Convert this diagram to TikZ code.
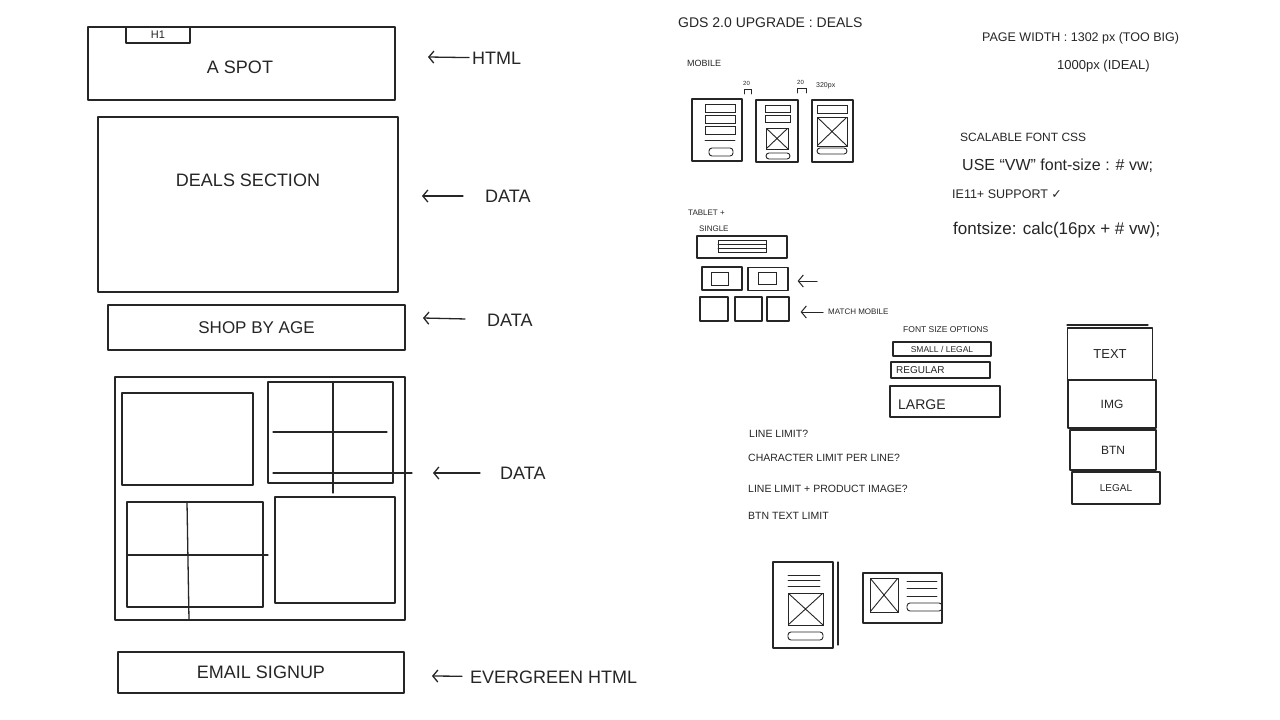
\documentclass[tikz,border=0pt]{standalone}
\usepackage{fontspec}
\setmainfont{Liberation Sans}
\newfontfamily\symfont{DejaVu Sans}
\usetikzlibrary{arrows.meta,positioning}
\definecolor{ink}{HTML}{262626}

\begin{document}
\begin{tikzpicture}[x=1pt,y=-1pt,
  pen/.style={draw=ink,line width=1.3pt,line cap=round,line join=round},
  box/.style={pen,inner sep=0pt,text=ink},
  fine/.style={draw=ink,line width=0.9pt,line cap=round,inner sep=0pt},
  xbox/.style={fine,path picture={
    \draw[fine] (path picture bounding box.north west) -- (path picture bounding box.south east)
                (path picture bounding box.south west) -- (path picture bounding box.north east);}},
  pill/.style={fine,rounded corners=3pt},
  lbl/.style={text=ink,font=\fontsize{18}{20}\selectfont,inner sep=0pt},
  note/.style={text=ink,anchor=west,inner sep=0pt},
  arr/.style={pen,-{Straight Barb[length=5pt,width=12pt]}}]
  \path[fill=white,use as bounding box] (0,0) rectangle (1280,720);

  \begin{scope}
	  % Page layout
	  \node[box,minimum width=307,minimum height=73] (aspot) at (241.5,63.5) {};
	  \node[lbl]                    (aspot text) at (240,67)  {A SPOT};
	  \node[box,minimum width=64,minimum height=16,font=\fontsize{11}{12}\selectfont] (h1) at (158,35) {H1};
	  \node[box,minimum width=300,minimum height=175] (deals) at (248,204.5) {};
	  \node[lbl]                    (deals text) at (248,180) {DEALS SECTION};
	  \node[box,minimum width=297,minimum height=45,font=\fontsize{17}{20}\selectfont] (shop)  at (256.5,327.5) {SHOP BY AGE};
	  \node[box,minimum width=286,minimum height=41,font=\fontsize{18}{20}\selectfont] (email) at (261,672.5) {EMAIL SIGNUP};
	  % Product grid
	  \node[box,minimum width=290,minimum height=243] (grid) at (260,498.5) {};
	  \node[box,minimum width=131,minimum height=92]  (grid a) at (187.5,439) {};
	  \node[box,minimum width=125,minimum height=101] (grid b) at (330.5,432.5) {};
	  \node[box,minimum width=136,minimum height=105] (grid c) at (195,554.5) {};
	  \node[box,minimum width=120,minimum height=106] (grid d) at (335,550) {};
	  \draw[pen] (333,383) -- (333,493);
	  \draw[pen] (273,432) -- (387,432);
	  \draw[pen] (273,473) -- (412,473);
	  \draw[pen] (187,502) -- (189,620);
	  \draw[pen] (127,555) -- (268,555);
  \end{scope}

  \begin{scope}
	  % Notes on the right of the page
	  \node[lbl,anchor=west] (html)      at (472,58)  {HTML};
	  \node[lbl,anchor=west] (data a)    at (485,196) {DATA};
	  \node[lbl,anchor=west] (data b)    at (487,320) {DATA};
	  \node[lbl,anchor=west] (data c)    at (500,473) {DATA};
	  \node[lbl,anchor=west] (evergreen) at (470,677) {EVERGREEN HTML};
	  \coordinate (html tip)  at (428,57);
	  \coordinate (data a tip) at (422,196);
	  \coordinate (data b tip) at (423,318);
	  \coordinate (data c tip) at (433,473);
	  \coordinate (ever tip)  at (432,676);
	  \path[arr]
	  (html)      edge[shorten <=3pt]  (html tip)
	  (data a)    edge[shorten <=22pt] (data a tip)
	  (data b)    edge[shorten <=22pt] (data b tip)
	  (data c)    edge[shorten <=20pt] (data c tip)
	  (evergreen) edge[shorten <=8pt]  (ever tip);
  \end{scope}

  \begin{scope}
	  % Titles and notes
	  \node[note,font=\fontsize{14}{16}\selectfont] (title)  at (678,23)  {GDS 2.0 UPGRADE : DEALS};
	  \node[note,font=\fontsize{9}{10}\selectfont]  (mobile) at (687,63)  {MOBILE};
	  \node[note,font=\fontsize{12.5}{14}\selectfont] (width a) at (982,38) {PAGE WIDTH : 1302 px (TOO BIG)};
	  \node[note,font=\fontsize{13}{14}\selectfont] (width b) at (1057,66) {1000px (IDEAL)};
	  \node[note,font=\fontsize{12}{14}\selectfont] (css a)  at (960,137) {SCALABLE FONT CSS};
	  \node[note,font=\fontsize{16}{18}\selectfont] (css b)  at (962,166) {USE ``VW'' font-size : \# vw;};
	  \node[note,font=\fontsize{12.5}{14}\selectfont] (css c) at (952,194) {IE11+ SUPPORT {\symfont ✓}};
	  \node[note,font=\fontsize{17}{18}\selectfont] (css d)  at (953,230) {fontsize: calc(16px + \# vw);};
	  \node[note,font=\fontsize{10.5}{12}\selectfont] (q a)  at (749,434) {LINE LIMIT?};
	  \node[note,font=\fontsize{10.5}{12}\selectfont] (q b)  at (748,458) {CHARACTER LIMIT PER LINE?};
	  \node[note,font=\fontsize{10.5}{12}\selectfont] (q c)  at (748,489) {LINE LIMIT + PRODUCT IMAGE?};
	  \node[note,font=\fontsize{10.5}{12}\selectfont] (q d)  at (748,516) {BTN TEXT LIMIT};
  \end{scope}

  \begin{scope}
	  % Mobile frames
	  \node[box,minimum width=50,minimum height=62] (m1) at (717,130) {};
	  \node[box,minimum width=42,minimum height=62] (m2) at (777,131) {};
	  \node[box,minimum width=41,minimum height=62] (m3) at (832.5,131) {};
	  \foreach \y in {104,115,126}
	    \draw[fine] (705,\y) rectangle (735,\y+8);
	  \draw[fine] (705,140) -- (735,140);
	  \node[pill,minimum width=24,minimum height=8] (m1 btn) at (721,152) {};
	  \foreach \y in {105,115}
	    \draw[fine] (765,\y) rectangle (790,\y+7);
	  \node[xbox,minimum width=22,minimum height=21] (m2 img) at (777,138.5) {};
	  \node[pill,minimum width=24,minimum height=6]  (m2 btn) at (778,156) {};
	  \draw[fine] (817,105) rectangle (847,113);
	  \node[xbox,minimum width=30,minimum height=29] (m3 img) at (832,131.5) {};
	  \node[pill,minimum width=30,minimum height=6]  (m3 btn) at (832,151) {};
	  % gutters
	  \draw[fine] (744,94) -- (744,89) -- (751,89) -- (751,94);
	  \draw[fine] (797,93) -- (797,88) -- (806,88) -- (806,93);
	  \node[note,font=\fontsize{6}{7}\selectfont] (gap a) at (743,83) {20};
	  \node[note,font=\fontsize{6}{7}\selectfont] (gap b) at (797,82) {20};
	  \node[note,font=\fontsize{7}{8}\selectfont] (gap c) at (816,86) {320px};
  \end{scope}

  \begin{scope}
	  % Tablet frames
	  \node[note,font=\fontsize{8}{9}\selectfont] (tablet) at (688,213) {TABLET +};
	  \node[note,font=\fontsize{8}{9}\selectfont] (single) at (699,229) {SINGLE};
	  \node[box,minimum width=90,minimum height=22] (t1) at (742,247) {};
	  \draw[fine] (718,240) rectangle (766,252);
	  \draw[fine] (718,244) -- (766,244) (718,248) -- (766,248);
	  \node[box,minimum width=40,minimum height=23] (t2 a) at (722,278.5) {};
	  \node[box,minimum width=40,minimum height=23] (t2 b) at (768,279)   {};
	  \node[fine,minimum width=17,minimum height=13] (t2 a img) at (719.5,278.5) {};
	  \node[fine,minimum width=18,minimum height=12] (t2 b img) at (767,278) {};
	  \node[box,minimum width=28,minimum height=24] (t3 a) at (714,309)   {};
	  \node[box,minimum width=27,minimum height=24] (t3 b) at (748.5,309) {};
	  \node[box,minimum width=22,minimum height=24] (t3 c) at (778,309)   {};
	  \coordinate (t2 arrow) at (817,281);
	  \node[note,font=\fontsize{8}{9}\selectfont] (match) at (828,312) {MATCH MOBILE};
	  \draw[arr,line width=1pt,shorten >=9pt]  (t2 arrow) -- (t2 b.east |- t2 arrow);
	  \draw[arr,line width=1pt,shorten <=5pt,shorten >=11pt] (match.west) -- (t3 c.east |- match.west);
  \end{scope}

  \begin{scope}
	  % Font size options
	  \node[note,font=\fontsize{8.5}{9}\selectfont] (fonts) at (903,330) {FONT SIZE OPTIONS};
	  \node[box,minimum width=98,minimum height=14,font=\fontsize{8.5}{9}\selectfont]  (f small) at (942,349) {SMALL / LEGAL};
	  \node[box,minimum width=99,minimum height=16]  (f reg)   at (940.5,370) {};
	  \node[box,minimum width=110,minimum height=31] (f large) at (945,401.5) {};
	  \node[note,font=\fontsize{10}{11}\selectfont] (f reg text)   at (896,370) {REGULAR};
	  \node[note,font=\fontsize{14}{15}\selectfont] (f large text) at (898,405) {LARGE};
  \end{scope}

  \begin{scope}
	  % Module stack
	  \node[box,minimum width=85,minimum height=52,font=\fontsize{13}{14}\selectfont] (s text)  at (1110,354) {TEXT};
	  \node[box,minimum width=88,minimum height=48,font=\fontsize{12}{14}\selectfont] (s img)   at (1112,404) {IMG};
	  \node[box,minimum width=86,minimum height=40,font=\fontsize{12}{14}\selectfont] (s btn)   at (1113,450) {BTN};
	  \node[box,minimum width=88,minimum height=32,font=\fontsize{10}{12}\selectfont] (s legal) at (1116,488) {LEGAL};
	  \draw[pen] (1067,325) -- (1148,325);
  \end{scope}

  \begin{scope}
	  % Card sketches
	  \node[box,minimum width=60,minimum height=86] (card a) at (803,605) {};
	  \draw[pen] (838,562) -- (838,645);
	  \foreach \y in {575,580,586}
	    \draw[fine] (788,\y) -- (820,\y);
	  \node[xbox,minimum width=35,minimum height=32] (card a img) at (805.5,609) {};
	  \node[pill,minimum width=35,minimum height=8]  (card a btn) at (805.5,636) {};
	  \node[box,minimum width=79,minimum height=50] (card b) at (902.5,598) {};
	  \node[xbox,minimum width=28,minimum height=34] (card b img) at (884,595) {};
	  \foreach \y in {581,588,596}
	    \draw[fine] (907,\y) -- (937,\y);
	  \node[pill,minimum width=35,minimum height=8]  (card b btn) at (924.5,607) {};
  \end{scope}
\end{tikzpicture}
\end{document}
